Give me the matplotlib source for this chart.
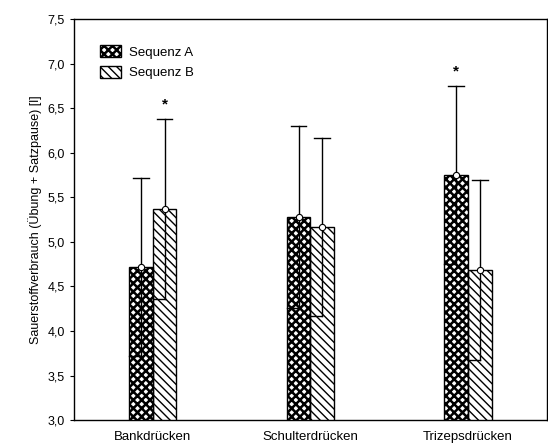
import matplotlib
matplotlib.use('Agg')
import matplotlib.pyplot as plt
import numpy as np
from matplotlib.patches import Patch

plt.rcParams['font.family'] = ['Liberation Sans', 'DejaVu Sans']
plt.rcParams['hatch.linewidth'] = 1.0

# data
categories = ['Bankdrücken', 'Schulterdrücken', 'Trizepsdrücken']
mean_a = [4.72, 5.28, 5.75]
sd_a = [1.00, 1.02, 1.00]
mean_b = [5.37, 5.17, 4.69]
sd_b = [1.01, 1.00, 1.01]
sig_a = [False, False, True]
sig_b = [True, False, False]
yticks = [3.0, 3.5, 4.0, 4.5, 5.0, 5.5, 6.0, 6.5, 7.0, 7.5]

HATCH_A = 'xxxx'
HATCH_B = '\\\\\\\\'

fig = plt.figure(figsize=(5.48, 4.46), dpi=100)
ax = fig.add_axes([0.135, 0.058, 0.863, 0.899])

x = np.arange(len(categories))
w = 0.15


def draw(xpos, means, sds, sig, hatch, hlw):
    with plt.rc_context({'hatch.linewidth': hlw}):
        bars = ax.bar(xpos, means, w, align='edge', color='white',
                      edgecolor='black', hatch=hatch, linewidth=0, zorder=2)
        for b in bars:
            if hasattr(b, 'set_hatch_linewidth'):
                b.set_hatch_linewidth(hlw)
    ax.bar(xpos, means, w, align='edge', fill=False, edgecolor='black',
           linewidth=1.0, zorder=3)
    xc = xpos + w / 2
    for xi, m, s, st in zip(xc, means, sds, sig):
        ax.plot([xi, xi], [m - s, m + s], color='black', lw=1.0, zorder=4)
        ax.plot([xi - w * 0.33, xi + w * 0.33], [m + s, m + s],
                color='black', lw=1.0, zorder=4)
        ax.plot([xi - w / 2, xi], [m - s, m - s], color='black', lw=1.0,
                zorder=4)
        ax.plot([xi], [m], marker='o', ms=4.5, mfc='white', mec='black',
                mew=0.8, zorder=5)
        if st:
            ax.text(xi, m + s + 0.16, '*', ha='center', va='center',
                    fontsize=11, fontweight='bold')


draw(x - w, mean_a, sd_a, sig_a, HATCH_A, 1.8)
draw(x, mean_b, sd_b, sig_b, HATCH_B, 1.0)

# legend
handles = [
    Patch(facecolor='white', edgecolor='black', hatch=HATCH_A, label='Sequenz A'),
    Patch(facecolor='white', edgecolor='black', hatch=HATCH_B, label='Sequenz B'),
]
leg = ax.legend(handles=handles, loc='upper left', bbox_to_anchor=(0.03, 0.965),
                frameon=False, fontsize=9.5, handlelength=1.6, handleheight=1.0,
                handletextpad=0.6, labelspacing=0.55)
lh = leg.legend_handles[0]
if hasattr(lh, 'set_hatch_linewidth'):
    lh.set_hatch_linewidth(1.8)

ax.set_xlim(-0.5, 2.5)
ax.set_ylim(3.0, 7.5)
ax.set_yticks(yticks)
ax.set_yticklabels([f'{v:.1f}'.replace('.', ',') for v in yticks], fontsize=9)
ax.set_xticks(x)
ax.set_xticklabels(categories, fontsize=9.5)
ax.tick_params(axis='x', length=0, pad=8)
ax.tick_params(axis='y', direction='out', length=3, right=True)
ax.set_ylabel('Sauerstoffverbrauch (Übung + Satzpause) [l]', fontsize=9)
for s in ax.spines.values():
    s.set_linewidth(1.0)

fig.savefig('out.png', dpi=100)
